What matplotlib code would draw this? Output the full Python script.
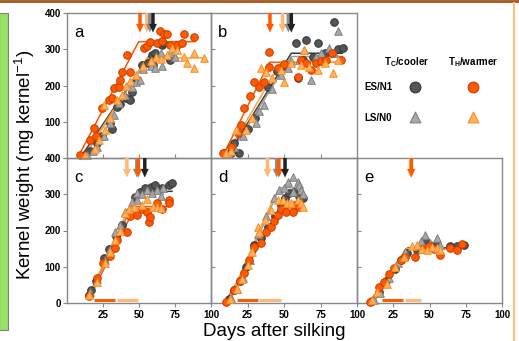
import matplotlib
matplotlib.use('Agg')
import matplotlib.pyplot as plt
from matplotlib.patches import Rectangle

plt.rcParams['font.family'] = ['Liberation Sans', 'DejaVu Sans']
plt.rcParams['mathtext.fontset'] = 'custom'
plt.rcParams['mathtext.rm'] = 'Liberation Sans'
plt.rcParams['mathtext.bf'] = 'Liberation Sans:bold'
plt.rcParams['mathtext.it'] = 'Liberation Sans:italic'

# ---- data: (days after silking, kernel weight) ----
# panel a
a_es_cool = [(12.7, 8), (16, 20), (20.8, 41), (24, 60), (30, 96), (31, 80), (34.7, 142), (37, 150), (41, 165),
             (44, 160), (45, 183), (48.6, 215), (52, 257), (56, 262), (59, 284), (60, 257), (61.3, 289), (66, 311),
             (67, 316), (71.8, 270), (75, 300)]
a_ls_cool = [(14, 8), (18, 18), (21, 30), (26, 60), (30, 96), (32.4, 120), (36, 152), (40, 175), (45, 197), (48, 210),
             (51, 215), (53, 245), (58, 253), (59, 267), (61.3, 248), (65, 289), (66, 253), (71.8, 289), (75, 280)]
a_es_warm = [(9.3, 8), (15.7, 50), (18.5, 82), (20, 60), (24.3, 137), (28.9, 160), (31.2, 165), (32.4, 192),
             (35.9, 197), (37, 215), (38.2, 238), (44, 238), (41.7, 284), (53.2, 303), (55.6, 309), (57.9, 321),
             (62.5, 316), (64.8, 349), (66, 324), (67.1, 343), (69.4, 343), (71.8, 311), (76.4, 311), (79.9, 316),
             (81, 343), (88, 335)]
a_ls_warm = [(12.7, 8), (19.7, 26), (22, 50), (25.5, 146), (26.6, 77), (30, 110), (34.7, 160), (38.2, 175), (41, 200),
             (44, 212), (48, 230), (53, 253), (58, 267), (62, 280), (65, 273), (69.4, 284), (73, 303), (76.4, 298),
             (81, 279), (83.3, 262), (88, 289), (88, 248), (95, 276)]
a_fits = {'es_cool': [(10, 5), (56.7, 280), (76, 280)], 'ls_cool': [(12, 5), (55.6, 272), (75, 272)],
          'es_warm': [(8, 5), (49.8, 321), (89, 321)], 'ls_warm': [(11.6, 5), (55.6, 276), (95, 276)]}
a_arrows = {'ls_warm': 55.5, 'ls_cool': 57.5, 'es_warm': 50.7, 'es_cool': 59.7}

# panel b
b_es_cool = [(9, 13), (14, 15), (16, 41), (19.4, 13), (25, 80), (30, 110), (38.8, 197), (45, 240), (50, 255),
             (58.2, 317), (59.4, 220), (63, 270), (65, 326), (70, 280), (73, 317), (78, 290), (84.5, 376), (87, 300),
             (90.2, 303)]
b_ls_cool = [(12, 10), (16, 30), (22, 60), (30.8, 96), (33, 130), (36.5, 146), (42, 190), (48, 230), (52.5, 248),
             (55, 267), (60, 270), (64, 298), (68.5, 215), (72, 280), (75.3, 289), (81, 303), (84, 290), (86.8, 349)]
b_es_warm = [(8, 13), (13.7, 30), (18.3, 69), (20.5, 91), (22.8, 137), (27, 170), (29.7, 211), (33, 197),
             (36.5, 211), (40, 252), (40, 293), (45.7, 248), (50, 260), (59.4, 224), (61.6, 270), (65, 262),
             (68.5, 243), (72, 262), (75.3, 267), (78.8, 270), (83, 290), (89, 270)]
b_ls_warm = [(10, 13), (14, 20), (17, 77), (24, 77), (28, 110), (34.2, 248), (37.7, 238), (42, 220), (48, 243),
             (50, 211), (55, 262), (61.6, 257), (64, 298), (67, 250), (73, 243), (78, 262), (83.3, 234), (86.8, 270)]
b_fits = {'es_cool': [(11, 5), (55, 289), (90, 289)], 'ls_cool': [(12, 5), (55, 280), (90, 280)],
          'es_warm': [(8, 5), (40, 264), (90, 264)], 'ls_warm': [(10, 5), (48, 264), (90, 264)]}
b_arrows = {'ls_warm': 49, 'ls_cool': 53, 'es_warm': 40.4, 'es_cool': 55}

# panel c
c_es_cool = [(15, 22), (17, 35), (20, 60), (25.5, 123), (29, 150), (34, 185), (38, 215), (43, 250), (47.5, 293),
             (51, 305), (54, 316), (58, 320), (61.3, 325), (66, 318), (70.6, 325), (73, 330)]
c_ls_cool = [(16.2, 31), (21, 65), (26.6, 118), (30, 150), (33.6, 197), (37, 215), (40.5, 252), (45, 280),
             (48.6, 303), (48.6, 284), (52, 300), (55.6, 312), (59, 303), (62.5, 312), (65, 295), (67, 316)]
c_es_warm = [(15, 18), (20.8, 68), (25, 110), (30, 130), (33.6, 151), (34.7, 174), (41.7, 197), (44, 240),
             (48.6, 243), (52, 260), (55.6, 252), (56.7, 224), (57.9, 238), (62.5, 275), (66, 260), (70.6, 284),
             (70.6, 275)]
c_ls_warm = [(15, 22), (20.8, 59), (26.6, 110), (30, 140), (33.6, 174), (37, 200), (40.5, 248), (43, 260),
             (46.3, 266), (52, 270), (55.6, 288), (60, 266), (62.5, 266), (65, 262)]
c_fits = {'es_cool': [(14, 10), (50, 308), (73, 308)], 'ls_cool': [(14, 10), (49, 300), (67, 300)],
          'es_warm': [(15, 10), (47.5, 266), (70.6, 266)], 'ls_warm': [(14, 10), (43, 262), (65, 262)]}
c_arrows = {'ls_warm': 41.6, 'ls_cool': 48.5, 'es_warm': 49.5, 'es_cool': 54}
c_bars = [(19, 33), (35, 49)]

# panel d
d_es_cool = [(12, 10), (16, 35), (20, 60), (24, 100), (29.7, 160), (34, 180), (39, 210), (44, 240), (48, 270),
             (51, 290), (53.7, 303), (57, 307), (60, 295), (61.6, 293), (63, 290)]
d_ls_cool = [(14, 15), (18, 40), (22, 70), (27, 120), (32, 190), (38, 240), (43, 290), (46.8, 312), (50.2, 316),
             (52.5, 335), (56, 348), (56, 307), (59.4, 335), (60.5, 325), (61.6, 312), (63, 300)]
d_es_warm = [(10.3, 4), (16, 36), (20, 60), (22.8, 82), (26, 120), (29.7, 155), (34.2, 165), (37.7, 197), (41, 211),
             (43.4, 225), (45.7, 243), (48, 260), (51.4, 252), (56, 252), (58, 270), (60.5, 266)]
d_ls_warm = [(13, 10), (18, 40), (21, 65), (25, 105), (28, 140), (32, 211), (33, 197), (37, 230), (41, 257),
             (45.7, 284), (49, 284), (52, 275), (55, 275), (59.4, 284), (61.6, 275), (63, 265)]
d_fits = {'es_cool': [(12, 5), (52, 300), (63, 300)], 'ls_cool': [(13, 5), (47, 318), (63, 318)],
          'es_warm': [(10, 5), (48, 262), (62, 262)], 'ls_warm': [(12, 5), (42, 280), (63, 280)]}
d_arrows = {'ls_warm': 38.7, 'ls_cool': 45, 'es_warm': 46.5, 'es_cool': 50.7}
d_bars = [(18, 32), (33, 48)]

# panel e
e_es_cool = [(10, 5), (15, 30), (20, 60), (26, 95), (30, 120), (34.5, 137), (41.4, 146), (47, 174), (50, 160),
             (55, 160), (64.4, 156), (69, 156), (73.6, 160)]
e_ls_cool = [(12, 8), (16, 28), (22, 70), (28, 110), (33, 140), (41.4, 156), (44, 170), (47, 188), (50, 165),
             (55, 178), (57, 160)]
e_es_warm = [(9.2, 4), (15, 45), (18.4, 59), (22, 80), (25.3, 96), (30, 120), (33.3, 128), (40.2, 128), (45, 150),
             (49.4, 156), (53, 150), (57.5, 133), (64.4, 151), (69, 146), (72.4, 164)]
e_ls_warm = [(10.3, 7), (14, 30), (20.7, 52), (26.4, 99), (32.2, 128), (38, 156), (41.4, 160), (45, 150),
             (48.3, 146), (52, 155), (55, 151), (57, 145)]
e_fits = {'es_cool': [(10, 5), (35, 152), (74, 152)], 'ls_cool': [(12, 5), (35, 150), (57, 150)],
          'es_warm': [(9, 5), (34, 150), (73, 150)], 'ls_warm': [(10, 5), (34, 150), (57, 150)]}
e_arrows = {'ls_warm': 37, 'es_warm': 37.5}
e_bars = [(17, 32), (33, 44)]

# ---- styles ----
marker_style = {
    'es_cool': dict(marker='o', fc='#555555', ec='#333333'),
    'ls_cool': dict(marker='^', fc='#a8a8a8', ec='#808080'),
    'es_warm': dict(marker='o', fc='#ff5a00', ec='#c83c00'),
    'ls_warm': dict(marker='^', fc='#ffb366', ec='#ff8c1a'),
}
line_color = {'es_cool': '#3a3a3a', 'ls_cool': '#9a9a9a', 'es_warm': '#ff5500', 'ls_warm': '#ffa040'}
arrow_color = {'ls_warm': '#ffb877', 'ls_cool': '#8c8c8c', 'es_warm': '#ff5a00', 'es_cool': '#222222'}
bar_colors = ['#ff5a00', '#ffb877']

W, H = 519, 341
fig = plt.figure(figsize=(W / 100, H / 100), dpi=100)

# overlay in pixel coordinates for frame, labels and legend
ov = fig.add_axes([0, 0, 1, 1])
ov.set_xlim(0, W)
ov.set_ylim(H, 0)
ov.axis('off')
ov.add_patch(Rectangle((-1, 13), 9, 317, fc='#99e067', ec='#808080', lw=0.8))
ov.plot([0, W], [0.8, 0.8], color='#a5561f', lw=2)
ov.plot([514, 514], [3, H], color='#f9c27f', lw=1.5)
ov.text(25, 165, 'Kernel weight (mg kernel$^{\\mathregular{-1}}$)', rotation=90, fontsize=13.5,
        ha='center', va='center')
ov.text(274, 331, 'Days after silking', fontsize=13.5, ha='center', va='center')
ov.text(407, 62, r'T$_{\mathbf{C}}$/cooler', fontsize=7, fontweight='bold', ha='center', va='center')
ov.text(473, 62, r'T$_{\mathbf{H}}$/warmer', fontsize=7, fontweight='bold', ha='center', va='center')
ov.text(378, 87, 'ES/N1', fontsize=7, fontweight='bold', ha='center', va='center')
ov.text(378, 118, 'LS/N0', fontsize=7, fontweight='bold', ha='center', va='center')
for key, (lx, ly) in [('es_cool', (415, 87)), ('es_warm', (473, 87)), ('ls_cool', (415, 117)), ('ls_warm', (473, 117))]:
    st = marker_style[key]
    ov.scatter([lx], [ly], s=60, marker=st['marker'], facecolor=st['fc'], edgecolor=st['ec'], linewidth=0.8)


def px_axes(x0, y0, x1, y1):
    return fig.add_axes([x0 / W, 1 - y1 / H, (x1 - x0) / W, (y1 - y0) / H])


panels = [
    ('a', (67, 13, 211, 158), dict(es_cool=a_es_cool, ls_cool=a_ls_cool, es_warm=a_es_warm, ls_warm=a_ls_warm), a_fits, a_arrows, None),
    ('b', (211, 13, 357, 158), dict(es_cool=b_es_cool, ls_cool=b_ls_cool, es_warm=b_es_warm, ls_warm=b_ls_warm), b_fits, b_arrows, None),
    ('c', (67, 158, 211, 303), dict(es_cool=c_es_cool, ls_cool=c_ls_cool, es_warm=c_es_warm, ls_warm=c_ls_warm), c_fits, c_arrows, c_bars),
    ('d', (211, 158, 357, 303), dict(es_cool=d_es_cool, ls_cool=d_ls_cool, es_warm=d_es_warm, ls_warm=d_ls_warm), d_fits, d_arrows, d_bars),
    ('e', (357, 158, 502, 303), dict(es_cool=e_es_cool, ls_cool=e_ls_cool, es_warm=e_es_warm, ls_warm=e_ls_warm), e_fits, e_arrows, e_bars),
]

for letter, rect, series, fits, arrows, bars in panels:
    ax = px_axes(*rect)
    ax.set_xlim(0, 100)
    ax.set_ylim(0, 400)
    ax.patch.set_alpha(0)
    for sp in ax.spines.values():
        sp.set_color('#888888')
        sp.set_linewidth(1)
    top_row = letter in 'ab'
    left_col = letter in 'ac'

    if top_row:
        ax.set_xticks([25, 50, 75])
        ax.tick_params(axis='x', direction='in', length=3, color='#888888', labelbottom=False)
    else:
        ax.set_xticks([25, 50, 75, 100])
        ax.set_xticklabels(['25', '50', '75', '100'], fontsize=7, fontweight='bold')
        ax.tick_params(axis='x', direction='out', length=3, color='#888888', pad=2)
    if left_col:
        ax.set_yticks([0, 100, 200, 300, 400])
        labels = ['', '100', '200', '300', '400'] if top_row else ['0', '100', '200', '300', '400']
        ax.set_yticklabels(labels, fontsize=7, fontweight='bold')
        ax.tick_params(axis='y', direction='out', length=3, color='#888888', pad=1.5)
    else:
        ax.set_yticks([100, 200, 300])
        ax.tick_params(axis='y', direction='in', length=3, color='#888888', labelleft=False)

    for key in ['es_cool', 'ls_cool', 'es_warm', 'ls_warm']:
        fx = [p[0] for p in fits[key]]
        fy = [p[1] for p in fits[key]]
        ax.plot(fx, fy, color=line_color[key], lw=1.1, zorder=2)
    for key in ['es_cool', 'ls_cool', 'es_warm', 'ls_warm']:
        st = marker_style[key]
        xs = [p[0] for p in series[key]]
        ys = [p[1] for p in series[key]]
        ax.scatter(xs, ys, s=30, marker=st['marker'], facecolor=st['fc'], edgecolor=st['ec'],
                   linewidth=0.7, zorder=3, clip_on=False)

    for key in ['ls_warm', 'ls_cool', 'es_warm', 'es_cool']:
        if key in arrows:
            ax.arrow(arrows[key], 400, 0, -54, width=2.4, head_width=5.5, head_length=24,
                     length_includes_head=True, color=arrow_color[key], ec='none', zorder=5, clip_on=False)

    if bars:
        for (b0, b1), col in zip(bars, bar_colors):
            ax.plot([b0, b1], [8, 8], color=col, lw=2.2, solid_capstyle='butt', zorder=4)

    ax.text(0.05, 0.915, letter, transform=ax.transAxes, fontsize=12, va='top', ha='left')

fig.savefig('out.png', dpi=100)
